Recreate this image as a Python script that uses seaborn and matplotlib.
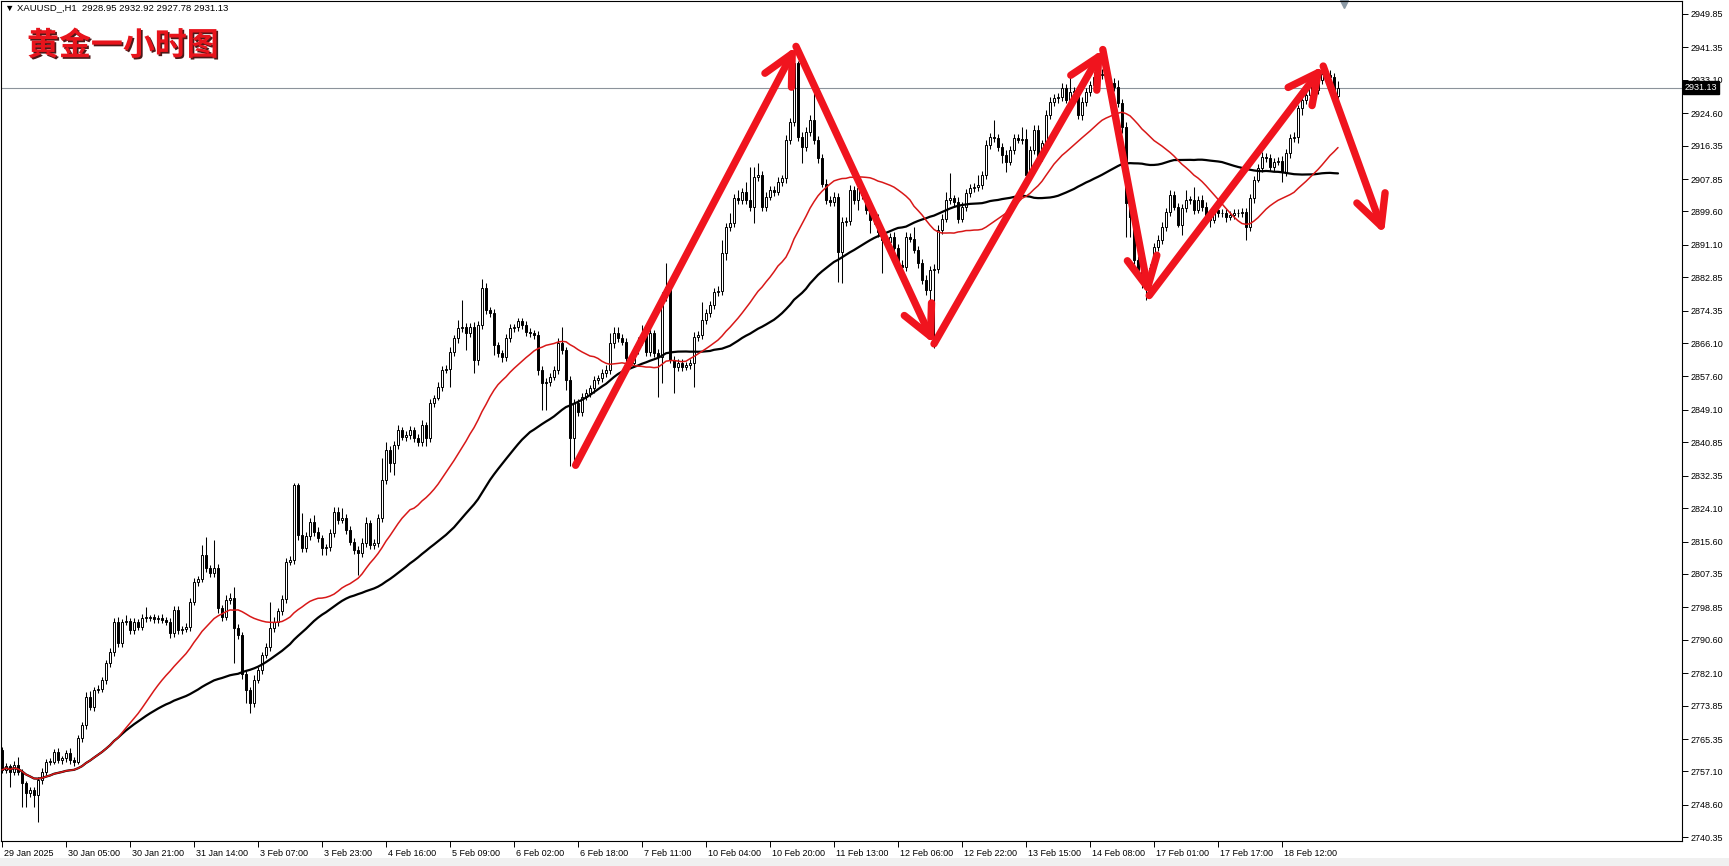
import numpy as np
import matplotlib
matplotlib.use('Agg')
import matplotlib.pyplot as plt
import matplotlib.patheffects as pe
import matplotlib.transforms as mtransforms
from matplotlib.patches import Rectangle
import pandas as pd
import seaborn as sns

# XAUUSD H1 - closes, one row per 16 bars (one x label)
first_open = 2762.6
closes = [
    2757.5, 2758.4, 2757.0, 2758.8, 2757.0, 2754.1, 2751.5, 2752.4, 2751.1, 2754.9, 2757.0, 2759.6, 2759.6, 2762.1, 2760.0, 2760.4,
    2761.7, 2760.0, 2759.6, 2765.5, 2769.0, 2776.1, 2773.6, 2777.8, 2778.2, 2780.4, 2784.6, 2787.6, 2795.2, 2789.7, 2795.2, 2795.4,
    2793.1, 2795.2, 2793.9, 2796.1, 2796.1, 2796.3, 2795.9, 2796.2, 2795.6, 2795.2, 2792.3, 2798.2, 2793.1, 2793.3, 2793.9, 2800.3,
    2805.4, 2806.0, 2812.2, 2808.8, 2807.5, 2808.8, 2798.6, 2796.5, 2800.7, 2801.2, 2793.5, 2791.8, 2781.9, 2777.8, 2774.4, 2780.4,
    2782.9, 2786.7, 2788.8, 2793.5, 2795.2, 2797.8, 2801.1, 2810.5, 2810.9, 2830.0, 2817.3, 2813.9, 2816.9, 2820.7, 2818.1, 2816.4,
    2813.9, 2814.1, 2817.7, 2823.2, 2821.1, 2821.5, 2818.6, 2815.6, 2813.5, 2812.6, 2815.2, 2820.2, 2814.7, 2815.2, 2821.5, 2831.3,
    2838.9, 2835.5, 2840.2, 2844.0, 2842.3, 2842.7, 2844.0, 2841.9, 2841.0, 2845.3, 2841.9, 2850.8, 2852.1, 2855.0, 2859.3, 2859.5,
    2863.9, 2867.3, 2869.9, 2870.3, 2868.6, 2870.3, 2861.8, 2870.7, 2880.0, 2874.5, 2873.7, 2865.6, 2863.5, 2862.5, 2867.3, 2869.9,
    2870.1, 2871.6, 2870.7, 2869.0, 2868.6, 2868.2, 2859.3, 2855.9, 2856.1, 2857.5, 2859.3, 2866.0, 2864.3, 2856.7, 2841.9, 2850.8,
    2848.6, 2852.5, 2853.3, 2854.6, 2856.7, 2857.1, 2858.4, 2859.3, 2866.0, 2868.6, 2867.3, 2866.5, 2862.2, 2861.0, 2864.3, 2866.5,
    2868.6, 2863.9, 2868.6, 2863.5, 2862.6, 2877.9, 2880.5, 2861.8, 2860.1, 2861.0, 2860.1, 2860.5, 2861.0, 2867.7, 2868.2, 2872.0,
    2873.7, 2875.8, 2879.2, 2879.4, 2889.0, 2895.7, 2896.6, 2902.9, 2902.5, 2904.6, 2902.5, 2900.8, 2908.4, 2908.9, 2900.8, 2903.4,
    2905.1, 2904.6, 2907.2, 2908.0, 2917.8, 2922.4, 2937.5, 2918.6, 2916.1, 2919.9, 2922.9, 2917.8, 2913.1, 2906.7, 2902.5, 2902.0,
    2903.4, 2889.4, 2897.0, 2897.2, 2905.0, 2902.5, 2905.5, 2903.8, 2900.0, 2897.4, 2897.8, 2894.4, 2892.3, 2891.9, 2893.2, 2890.2,
    2886.0, 2885.5, 2893.2, 2892.7, 2889.8, 2886.4, 2882.2, 2879.6, 2884.7, 2884.9, 2894.9, 2897.8, 2902.5, 2902.9, 2902.1, 2897.8,
    2900.8, 2904.2, 2905.5, 2905.9, 2906.3, 2908.9, 2916.5, 2918.6, 2918.2, 2916.1, 2914.0, 2912.3, 2915.2, 2918.2, 2917.8, 2918.0,
    2908.9, 2915.2, 2920.3, 2913.5, 2916.9, 2924.1, 2927.5, 2928.4, 2928.6, 2930.9, 2928.0, 2930.1, 2930.3, 2924.1, 2927.5, 2930.1,
    2931.8, 2933.9, 2934.3, 2934.7, 2933.0, 2932.2, 2931.3, 2927.1, 2921.2, 2901.7, 2898.3, 2887.2, 2884.7, 2881.3, 2880.9, 2885.1,
    2890.6, 2892.3, 2895.7, 2899.5, 2903.8, 2900.8, 2896.1, 2900.4, 2902.5, 2902.5, 2900.0, 2902.5, 2900.8, 2898.3, 2897.4, 2900.0,
    2899.1, 2899.3, 2898.3, 2898.7, 2899.1, 2899.3, 2899.5, 2895.7, 2902.9, 2907.6, 2910.6, 2913.5, 2913.1, 2911.0, 2912.3, 2912.5,
    2909.7, 2914.4, 2918.2, 2918.6, 2925.8, 2927.9, 2929.2, 2932.2, 2930.5, 2933.0, 2934.7, 2934.3, 2933.9, 2928.95, 2931.13,
]
# wick lengths above / below the body
up_wick = [
    0.8, 0.8, 0.6, 0.9, 2.1, 0.7, 0.6, 0.8, 0.7, 0.9, 1.0, 0.7, 0.8, 0.6, 1.0, 0.7,
    0.8, 1.3, 0.7, 0.9, 0.8, 1.2, 1.5, 0.8, 0.9, 0.7, 0.8, 0.9, 1.0, 1.2, 0.8, 1.5,
    0.8, 0.9, 0.7, 1.0, 2.9, 0.7, 0.8, 0.6, 0.9, 0.8, 1.0, 0.9, 1.1, 0.8, 0.9, 1.0,
    0.8, 0.9, 2.5, 4.6, 0.9, 7.2, 1.0, 0.8, 1.2, 1.4, 2.9, 1.0, 0.8, 1.0, 0.7, 1.2,
    0.8, 0.9, 1.0, 6.8, 1.1, 0.9, 1.0, 1.0, 0.9, 0.4, 0.4, 5.5, 1.2, 1.0, 1.7, 1.1,
    0.9, 1.0, 1.2, 1.3, 1.3, 2.6, 1.0, 0.9, 0.8, 0.9, 1.2, 1.7, 0.9, 1.0, 1.1, 5.5,
    2.1, 0.9, 1.0, 1.3, 0.8, 1.0, 0.9, 0.8, 1.0, 1.2, 0.8, 1.0, 0.9, 1.2, 1.0, 1.0,
    1.1, 0.9, 2.1, 6.8, 0.9, 1.0, 1.2, 1.0, 2.3, 1.3, 0.9, 1.0, 0.8, 0.9, 1.1, 1.0,
    0.9, 1.0, 0.8, 0.9, 1.0, 0.8, 1.0, 0.9, 1.0, 1.1, 0.9, 1.3, 4.3, 0.9, 1.0, 1.2,
    1.0, 0.9, 1.1, 0.8, 1.0, 0.9, 1.0, 1.1, 2.6, 1.7, 1.7, 1.0, 0.9, 1.1, 1.0, 1.2,
    2.1, 1.0, 1.1, 0.9, 1.0, 1.2, 5.9, 1.0, 0.9, 1.1, 1.0, 0.8, 1.0, 1.2, 1.1, 4.6,
    1.0, 1.1, 0.9, 1.2, 3.3, 1.0, 2.5, 1.1, 2.2, 1.0, 2.6, 8.5, 2.6, 2.9, 1.0, 1.2,
    1.1, 1.0, 1.2, 1.0, 1.3, 1.1, 4.3, 0.5, 1.2, 1.1, 1.3, 7.1, 1.0, 1.2, 1.1, 1.0,
    1.2, 1.0, 1.3, 1.1, 1.3, 1.0, 1.2, 1.1, 1.0, 1.2, 1.0, 1.1, 1.2, 1.0, 0.9, 1.1,
    1.0, 1.2, 1.1, 1.0, 3.0, 1.1, 1.0, 1.2, 1.1, 1.3, 1.2, 1.1, 2.1, 6.4, 1.0, 1.1,
    1.2, 1.0, 1.1, 1.0, 2.6, 1.1, 1.2, 1.0, 4.3, 1.1, 1.0, 1.2, 1.1, 1.0, 1.2, 3.2,
    2.7, 1.1, 1.2, 1.3, 1.0, 1.2, 1.1, 1.0, 1.2, 1.3, 1.1, 4.2, 1.0, 1.1, 1.2, 1.0,
    1.1, 1.2, 1.0, 1.1, 1.0, 1.2, 1.3, 1.7, 1.1, 1.2, 1.0, 1.3, 1.1, 1.0, 1.2, 1.1,
    1.0, 1.2, 1.1, 1.0, 1.2, 1.1, 1.0, 1.2, 2.5, 1.1, 3.4, 1.0, 1.3, 1.1, 1.0, 1.2,
    1.1, 1.0, 0.9, 1.1, 1.0, 0.9, 1.0, 1.1, 1.2, 1.0, 1.1, 1.3, 1.0, 1.1, 0.9, 1.0,
    1.1, 1.0, 1.2, 1.1, 1.0, 1.2, 1.1, 1.0, 1.1, 1.2, 1.0, 1.1, 1.3, 1.0, 1.79,
]
dn_wick = [
    0.9, 0.8, 3.8, 0.9, 0.7, 6.0, 3.4, 0.8, 3.0, 6.8, 1.0, 0.8, 0.9, 0.7, 0.8, 0.9,
    0.8, 0.9, 1.0, 0.7, 0.8, 1.0, 0.9, 1.2, 0.8, 0.9, 1.0, 0.8, 1.1, 1.0, 0.9, 0.8,
    0.9, 1.0, 0.8, 0.9, 1.0, 0.8, 0.9, 1.0, 0.8, 0.9, 1.2, 1.0, 0.9, 1.0, 0.8, 1.0,
    0.9, 1.0, 0.8, 0.9, 1.0, 0.8, 1.1, 1.0, 0.9, 1.0, 8.9, 1.0, 1.2, 3.4, 2.5, 1.0,
    0.9, 1.0, 0.8, 1.0, 0.9, 1.0, 0.8, 1.1, 0.9, 1.0, 1.2, 0.9, 1.0, 0.8, 1.0, 0.9,
    1.7, 1.7, 1.0, 0.9, 1.0, 0.8, 1.1, 0.9, 1.0, 5.5, 1.0, 0.9, 1.1, 1.0, 0.9, 1.0,
    1.0, 2.1, 3.0, 1.0, 0.9, 1.0, 1.1, 0.9, 1.0, 1.0, 2.1, 1.0, 0.9, 0.5, 1.0, 0.9,
    4.5, 1.0, 1.1, 1.0, 4.2, 0.9, 3.4, 1.3, 1.0, 1.1, 0.9, 2.5, 1.0, 1.1, 0.9, 1.0,
    1.0, 0.9, 1.1, 1.0, 0.9, 1.0, 1.2, 6.8, 6.8, 1.0, 0.9, 1.0, 1.1, 2.5, 7.2, 6.4,
    1.1, 1.0, 0.9, 1.0, 1.1, 0.9, 1.0, 0.9, 1.0, 1.1, 1.0, 0.9, 1.1, 1.0, 0.9, 1.0,
    1.0, 1.1, 1.0, 0.9, 10.1, 6.7, 1.0, 0.8, 6.8, 1.0, 1.1, 0.9, 1.0, 6.0, 1.0, 1.1,
    1.0, 0.9, 1.1, 1.0, 1.0, 1.8, 1.0, 0.9, 1.1, 1.0, 0.9, 1.2, 4.2, 1.0, 1.1, 1.0,
    1.0, 1.1, 0.9, 1.0, 1.2, 1.0, 1.1, 1.0, 4.3, 1.0, 1.1, 1.0, 1.2, 1.0, 1.1, 1.0,
    1.0, 7.7, 8.1, 1.0, 1.1, 1.0, 2.5, 1.0, 1.1, 3.4, 1.0, 1.2, 8.4, 1.0, 1.1, 1.0,
    1.2, 1.0, 1.1, 1.0, 0.9, 1.1, 1.0, 1.2, 5.9, 19.9, 1.0, 1.1, 1.0, 0.9, 1.0, 1.1,
    1.0, 1.1, 1.0, 0.9, 1.0, 1.1, 1.0, 0.9, 1.0, 1.1, 2.2, 2.6, 1.0, 1.1, 0.9, 1.0,
    1.1, 1.0, 0.9, 1.0, 1.1, 1.0, 0.9, 1.0, 1.1, 1.0, 0.9, 1.0, 1.1, 1.0, 1.2, 1.0,
    1.0, 0.9, 1.1, 1.0, 0.9, 1.0, 1.1, 1.0, 1.7, 8.5, 5.1, 1.0, 0.9, 1.1, 3.8, 1.0,
    1.1, 1.0, 0.9, 1.1, 1.0, 0.9, 0.4, 2.5, 1.0, 1.1, 1.0, 0.9, 1.0, 1.1, 1.7, 0.8,
    1.0, 0.9, 1.3, 1.0, 0.9, 1.0, 1.1, 3.4, 1.0, 1.1, 0.4, 1.0, 0.9, 1.0, 1.1, 1.0,
    2.5, 1.0, 1.1, 1.0, 1.7, 1.7, 1.0, 0.9, 2.1, 1.0, 0.9, 1.0, 1.1, 1.0, 1.17,
]

x_labels = ['29 Jan 2025', '30 Jan 05:00', '30 Jan 21:00', '31 Jan 14:00', '3 Feb 07:00',
            '3 Feb 23:00', '4 Feb 16:00', '5 Feb 09:00', '6 Feb 02:00', '6 Feb 18:00',
            '7 Feb 11:00', '10 Feb 04:00', '10 Feb 20:00', '11 Feb 13:00', '12 Feb 06:00',
            '12 Feb 22:00', '13 Feb 15:00', '14 Feb 08:00', '17 Feb 01:00', '17 Feb 17:00',
            '18 Feb 12:00']
y_ticks = [2740.35, 2748.60, 2757.10, 2765.35, 2773.85, 2782.10, 2790.60, 2798.85, 2807.35,
           2815.60, 2824.10, 2832.35, 2840.85, 2849.10, 2857.60, 2866.10, 2874.35, 2882.85,
           2891.10, 2899.60, 2907.85, 2916.35, 2924.60, 2933.10, 2941.35, 2949.85]

# hand-drawn zigzag arrows (bar index, price)
arrow_x = [143.4, 198.5, 233.0, 275.2, 286.8, 330.3, 345.5]
arrow_y = [2835.0, 2941.6, 2865.9, 2940.8, 2878.2, 2936.6, 2893.9]

last_price = 2931.13
header = '▼ XAUUSD_,H1  2928.95 2932.92 2927.78 2931.13'
title = '黄金一小时图'

df = pd.DataFrame({'close': closes, 'up': up_wick, 'dn': dn_wick})
df['bar'] = np.arange(len(df))
df['open'] = df['close'].shift(1).fillna(first_open)
df['top'] = df[['open', 'close']].max(axis=1)
df['bot'] = df[['open', 'close']].min(axis=1)
df['high'] = df['top'] + df['up']
df['low'] = df['bot'] - df['dn']
df['ma_red'] = df['close'].rolling(30, min_periods=1).mean()
df['ma_black'] = df['close'].rolling(60, min_periods=1).mean()

sns.set_theme(style='white')
plt.rcParams['font.family'] = ['Liberation Sans', 'DejaVu Sans']

fig = plt.figure(figsize=(17.29, 8.66), dpi=100)
ax = fig.add_axes([1 / 1729, 25 / 866, 1681 / 1729, 840 / 866])

# current price line
ax.axhline(last_price, color='#8c939b', lw=0.8, zorder=1)

# candles
rising = df['close'] >= df['open']
ax.vlines(df['bar'], df['low'], df['high'], color='black', lw=0.75, zorder=2)
ax.bar(df['bar'], (df['top'] - df['bot']).clip(lower=0.2), bottom=df['bot'], width=0.55,
       color=np.where(rising, 'white', 'black'), edgecolor='black', linewidth=0.7, zorder=3)

# moving averages
sns.lineplot(data=df, x='bar', y='ma_black', color='black', lw=1.6, ax=ax, zorder=4)
sns.lineplot(data=df, x='bar', y='ma_red', color='#d81818', lw=1.1, ax=ax, zorder=4)

# arrows
for i in range(len(arrow_x) - 1):
    ax.annotate('', xy=(arrow_x[i + 1], arrow_y[i + 1]), xytext=(arrow_x[i], arrow_y[i]),
                arrowprops=dict(arrowstyle='->,head_length=0.9,head_width=0.45', color='#f0141e',
                                lw=5.3, shrinkA=0, shrinkB=0, mutation_scale=24,
                                capstyle='round', joinstyle='round'),
                zorder=6)

ax.set_xlim(-0.25, 420)
ax.set_ylim(2739.4, 2953.15)
ax.set_xlabel('')
ax.set_ylabel('')

ax.yaxis.tick_right()
ax.set_yticks(y_ticks)
ax.set_yticklabels([f'{v:.2f}' for v in y_ticks])
ax.tick_params(axis='y', direction='out', length=4, width=0.7, pad=2, labelsize=6.5,
               colors='black', right=True, left=False)
ax.set_xticks(np.arange(0, 16 * len(x_labels), 16))
ax.set_xticklabels(x_labels, ha='left')
ax.tick_params(axis='x', direction='out', length=4, width=0.7, pad=2, labelsize=6.5,
               colors='black', bottom=True)
offset = mtransforms.ScaledTranslation(2 / 100, 0, fig.dpi_scale_trans)
for lbl in ax.get_xticklabels():
    lbl.set_transform(lbl.get_transform() + offset)

for s in ax.spines.values():
    s.set_color('black')
    s.set_linewidth(0.8)

# price tag on the axis
trans = mtransforms.blended_transform_factory(ax.transAxes, ax.transData)
ax.text(1.0015, last_price, f'{last_price:.2f}', transform=trans, va='center', ha='left',
        color='white', fontsize=6.5, clip_on=False, zorder=10,
        bbox=dict(boxstyle='square,pad=0.18', fc='black', ec='black'))

# chart shift marker
trans2 = mtransforms.blended_transform_factory(ax.transData, ax.transAxes)
ax.plot([335.5], [1 - 3 / 840], marker='v', ms=6, color='#8c9aa6', transform=trans2, clip_on=False)

fig.text(5 / 1729, 1 - 8 / 866, header, fontsize=6.8, va='center', ha='left', color='black')
fig.text(27 / 1729, 1 - 46 / 866, title, fontsize=23, weight='bold', family=['Noto Sans CJK SC'],
         color='#e8141c', va='center', ha='left',
         path_effects=[pe.withSimplePatchShadow(offset=(1.2, -1.2), shadow_rgbFace='#3a0000', alpha=0.9)])

fig.add_artist(Rectangle((0, 0), 1, 8 / 866, transform=fig.transFigure, fc='#f0f0f0', ec='none', zorder=0))

fig.savefig('out.png', dpi=100)
